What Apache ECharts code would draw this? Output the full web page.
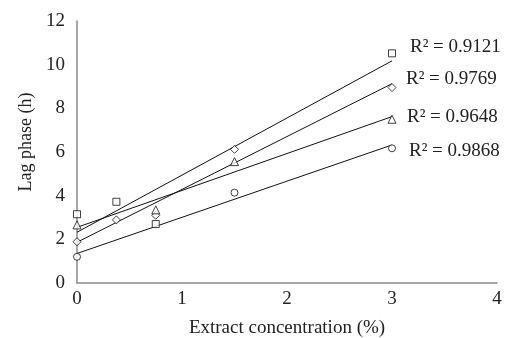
<!DOCTYPE html>
<html>
<head>
<meta charset="utf-8">
<script src="https://cdn.jsdelivr.net/npm/echarts@6/dist/echarts.min.js"></script>
<style>
  html, body { margin: 0; padding: 0; background: #fff; }
  #chart { width: 510px; height: 338px; }
</style>
</head>
<body>
<div id="chart"></div>
<script>
// values: [concentration %, lag phase h]
const squarePts = [[0, 3.15], [0.375, 3.72], [0.75, 2.7], [3, 10.52]];
const diamondPts = [[0, 1.89], [0.375, 2.89], [0.75, 3.1], [1.5, 6.12], [3, 8.95]];
const trianglePts = [[0, 2.66], [0.75, 3.35], [1.5, 5.56], [3, 7.5]];
const circlePts = [[0, 1.2], [1.5, 4.14], [3, 6.17]];
const r2Labels = ["R\u00b2 = 0.9121", "R\u00b2 = 0.9769", "R\u00b2 = 0.9648", "R\u00b2 = 0.9868"];
const xTicks = [0, 1, 2, 3, 4];
const yTicks = [0, 2, 4, 6, 8, 10, 12];

const FONT = "Liberation Serif";

// least squares line across the range of the points
function fitLine(pts) {
  const n = pts.length;
  let sx = 0, sy = 0, sxx = 0, sxy = 0;
  pts.forEach(([x, y]) => { sx += x; sy += y; sxx += x * x; sxy += x * y; });
  const slope = (n * sxy - sx * sy) / (n * sxx - sx * sx);
  const icpt = (sy - slope * sx) / n;
  const xs = pts.map(p => p[0]);
  const x0 = Math.min(...xs), x1 = Math.max(...xs);
  return [[x0, icpt + slope * x0], [x1, icpt + slope * x1]];
}

const groups = [
  { pts: squarePts, symbol: "rect", size: 7, offset: [18, -14] },
  { pts: diamondPts, symbol: "diamond", size: 8, offset: [14, -5] },
  { pts: trianglePts, symbol: "triangle", size: 8, offset: [15, 0] },
  { pts: circlePts, symbol: "circle", size: 7, offset: [17, 6] },
];

const series = [];
groups.forEach((g, i) => {
  series.push({
    type: "line",
    data: fitLine(g.pts),
    symbol: "none",
    lineStyle: { color: "#111", width: 1 },
    endLabel: {
      show: true,
      distance: 0,
      offset: g.offset,
      formatter: r2Labels[i],
      fontFamily: FONT,
      fontSize: 19,
      color: "#222",
    },
    silent: true,
    z: 2,
  });
  series.push({
    type: "scatter",
    data: g.pts,
    symbol: g.symbol,
    symbolSize: g.size,
    itemStyle: { color: "#fff", borderColor: "#111", borderWidth: 1 },
    z: 3,
  });
});

const chart = echarts.init(document.getElementById("chart"));
chart.setOption({
  animation: false,
  backgroundColor: "#fff",
  grid: { left: 77, right: 13, top: 21, bottom: 55, outerBoundsMode: "none", containLabel: false },
  xAxis: {
    type: "value",
    min: xTicks[0],
    max: xTicks[xTicks.length - 1],
    interval: 1,
    name: "Extract concentration (%)",
    nameLocation: "middle",
    nameGap: 36,
    nameTextStyle: { fontFamily: FONT, fontSize: 19, color: "#222" },
    axisLine: { lineStyle: { color: "#8c8c8c", width: 1.5 } },
    axisTick: { show: false },
    splitLine: { show: false },
    axisLabel: { fontFamily: FONT, fontSize: 19, color: "#222", margin: 7 },
  },
  yAxis: {
    type: "value",
    min: yTicks[0],
    max: yTicks[yTicks.length - 1],
    interval: 2,
    name: "Lag phase (h)",
    nameLocation: "middle",
    nameGap: 41,
    nameTextStyle: { fontFamily: FONT, fontSize: 18, color: "#222", padding: [0, 0, 0, 20] },
    axisLine: { show: true, lineStyle: { color: "#8c8c8c", width: 1.5 } },
    axisTick: { show: false },
    splitLine: { show: false },
    axisLabel: { fontFamily: FONT, fontSize: 19, color: "#222", margin: 12 },
  },
  series: series,
});
</script>
</body>
</html>
